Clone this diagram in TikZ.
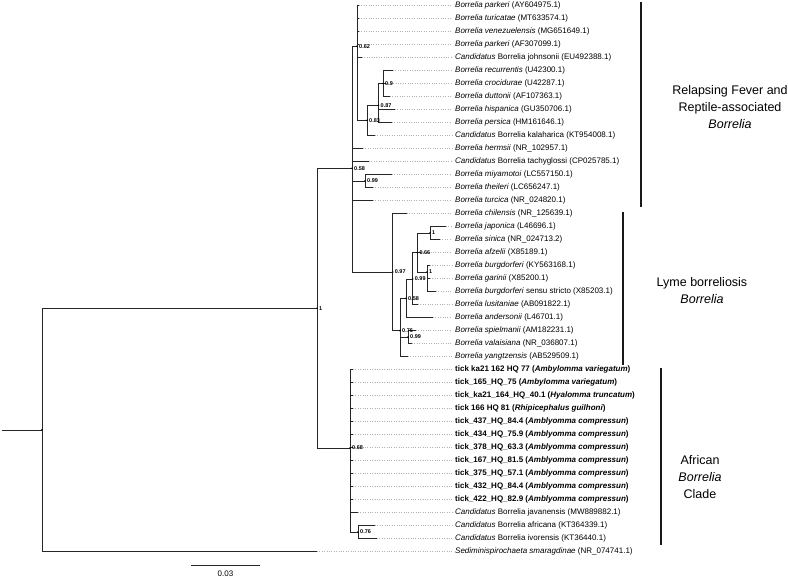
\documentclass[tikz,border=0pt]{standalone}
\usepackage{fontspec}
\setmainfont{Liberation Sans}
\usetikzlibrary{positioning}

\newcommand{\tk}[2]{\textbf{#1 (\textit{#2})}}

\begin{document}
\begin{tikzpicture}[
    x=1pt, y=-1pt,
    branch/.style={draw=black!85, line width=0.6pt},
    leader/.style={draw=black!30, dotted, line width=0.4pt},
    leaf/.style={anchor=west, inner sep=0pt, font=\fontsize{8}{9}\selectfont},
    support/.style={right, inner sep=2pt, font=\fontsize{5.5}{6}\selectfont\bfseries},
    cladebar/.style={draw=black!90, line width=2.6pt},
    cladename/.style={align=center, font=\fontsize{12.5}{17}\selectfont}
  ]
  \useasboundingbox (0,0) rectangle (788,581);

  \coordinate (stem) at (2,429.8);
  \coordinate (root) at (42,429.8);
  \foreach \n/\x/\y in {n1/317/308.2, nrf/352/168.3, n62/357/46.3, n83/367/120.3,
      n87/378.5/105.2, n90/383/83.5, nmt/365/181, nly/392.7/272,
      ng/400/330.6, nf/406/298.3, ne/412.7/279, nc/417.3/252.5,
      nb/430/233, nd/427/272, nh/408/337, naf/350/448, nai/358/532}
    \coordinate (\n) at (\x,\y);

  \draw[branch] (stem) -- (root);
  \draw[branch] (root) |- (n1) (n1) |- (nrf) (n1) |- (naf)
    (nrf) |- (n62) (n62) |- (n83) (n83) |- (n87) (n87) |- (n90)
    (nrf) |- (nmt) (nrf) |- (nly) (nly) |- (ng) (ng) |- (nf)
    (nf) |- (ne) (ne) |- (nc) (nc) |- (nb) (nc) |- (nd) (ng) |- (nh)
    (naf) |- (nai);

  \foreach \i/\p/\tx/\lab in {
      0/n62/359/{\textit{Borrelia parkeri} (AY604975.1)},
      1/n62/359/{\textit{Borrelia turicatae} (MT633574.1)},
      2/n62/359/{\textit{Borrelia venezuelensis} (MG651649.1)},
      3/n62/359/{\textit{Borrelia parkeri} (AF307099.1)},
      4/n62/362/{\textit{Candidatus} Borrelia johnsonii (EU492388.1)},
      5/n90/393/{\textit{Borrelia recurrentis} (U42300.1)},
      6/n90/386/{\textit{Borrelia crocidurae} (U42287.1)},
      7/n90/390/{\textit{Borrelia duttonii} (AF107363.1)},
      8/n87/395/{\textit{Borrelia hispanica} (GU350706.1)},
      9/n87/392/{\textit{Borrelia persica} (HM161646.1)},
      10/n83/375/{\textit{Candidatus} Borrelia kalaharica (KT954008.1)},
      11/nrf/363/{\textit{Borrelia hermsii} (NR\_102957.1)},
      12/nrf/369/{\textit{Candidatus} Borrelia tachyglossi (CP025785.1)},
      13/nmt/392/{\textit{Borrelia miyamotoi} (LC557150.1)},
      14/nmt/373/{\textit{Borrelia theileri} (LC656247.1)},
      15/nrf/373/{\textit{Borrelia turcica} (NR\_024820.1)},
      16/nly/407/{\textit{Borrelia chilensis} (NR\_125639.1)},
      17/nb/446/{\textit{Borrelia japonica} (L46696.1)},
      18/nb/440/{\textit{Borrelia sinica} (NR\_024713.2)},
      19/nc/421/{\textit{Borrelia afzelii} (X85189.1)},
      20/nd/430/{\textit{Borrelia burgdorferi} (KY563168.1)},
      21/nd/430/{\textit{Borrelia garinii} (X85200.1)},
      22/nd/436/{\textit{Borrelia burgdorferi} sensu stricto (X85203.1)},
      23/ne/418/{\textit{Borrelia lusitaniae} (AB091822.1)},
      24/nf/433/{\textit{Borrelia andersonii} (L46701.1)},
      25/nh/416/{\textit{Borrelia spielmanii} (AM182231.1)},
      26/nh/412/{\textit{Borrelia valaisiana} (NR\_036807.1)},
      27/ng/408/{\textit{Borrelia yangtzensis} (AB529509.1)},
      28/naf/353/{\tk{tick ka21 162 HQ 77}{Ambylomma variegatum}},
      29/naf/353/{\tk{tick\_165\_HQ\_75}{Ambylomma variegatum}},
      30/naf/353/{\tk{tick\_ka21\_164\_HQ\_40.1}{Hyalomma truncatum}},
      31/naf/353/{\tk{tick 166 HQ 81}{Rhipicephalus guilhoni}},
      32/naf/353/{\tk{tick\_437\_HQ\_84.4}{Amblyomma compressun}},
      33/naf/353/{\tk{tick\_434\_HQ\_75.9}{Amblyomma compressun}},
      34/naf/353/{\tk{tick\_378\_HQ\_63.3}{Amblyomma compressun}},
      35/naf/353/{\tk{tick\_167\_HQ\_81.5}{Amblyomma compressun}},
      36/naf/353/{\tk{tick\_375\_HQ\_57.1}{Amblyomma compressun}},
      37/naf/353/{\tk{tick\_432\_HQ\_84.4}{Amblyomma compressun}},
      38/naf/353/{\tk{tick\_422\_HQ\_82.9}{Amblyomma compressun}},
      39/naf/358/{\textit{Candidatus} Borrelia javanensis (MW889882.1)},
      40/nai/375/{\textit{Candidatus} Borrelia africana (KT364339.1)},
      41/nai/377/{\textit{Candidatus} Borrelia ivorensis (KT36440.1)},
      42/root/317/{\textit{Sediminispirochaeta smaragdinae} (NR\_074741.1)}}
  {
    \coordinate (t\i) at (\tx,{5.5+13*\i});
    \node[leaf] (l\i) at (455,{5.5+13*\i}) {\lab};
    \draw[branch] (\p) |- (t\i);
    \draw[leader] (t\i) -- ([xshift=-3pt]l\i.west);
  }

  \fill (root) circle (0.9pt);
  \foreach \n/\s in {n1/1, nrf/0.58, n62/0.62, n83/0.83, n87/0.87, n90/0.9,
      nmt/0.99, nly/0.97, ng/0.76, nf/0.58, ne/0.99, nc/0.66, nb/1, nd/1,
      nh/0.99, naf/0.68, nai/0.76}
  {
    \fill (\n) circle (0.9pt);
    \node[support] (s\n) at (\n) {\s};
  }

  \coordinate (rftop) at (641,2);
  \coordinate (rfbot) at (641,207);
  \coordinate (lytop) at (623,212);
  \coordinate (lybot) at (623,365);
  \coordinate (aftop) at (661,368);
  \coordinate (afbot) at (661,545);
  \draw[cladebar] (rftop) -- (rfbot);
  \draw[cladebar] (lytop) -- (lybot);
  \draw[cladebar] (aftop) -- (afbot);
  \node[cladename] (rfname) at (730,107) {Relapsing Fever and\\Reptile-associated\\\textit{Borrelia}};
  \node[cladename] (lyname) at (702,291) {Lyme borreliosis\\\textit{Borrelia}};
  \node[cladename] (afname) at (700,477) {African\\\textit{Borrelia}\\Clade};

  \coordinate (sbl) at (191,565);
  \coordinate (sbr) at (260,565);
  \draw[branch] (sbl) -- (sbr) node[midway, below=2pt, font=\fontsize{8}{9}\selectfont] (sblab) {0.03};
\end{tikzpicture}
\end{document}
